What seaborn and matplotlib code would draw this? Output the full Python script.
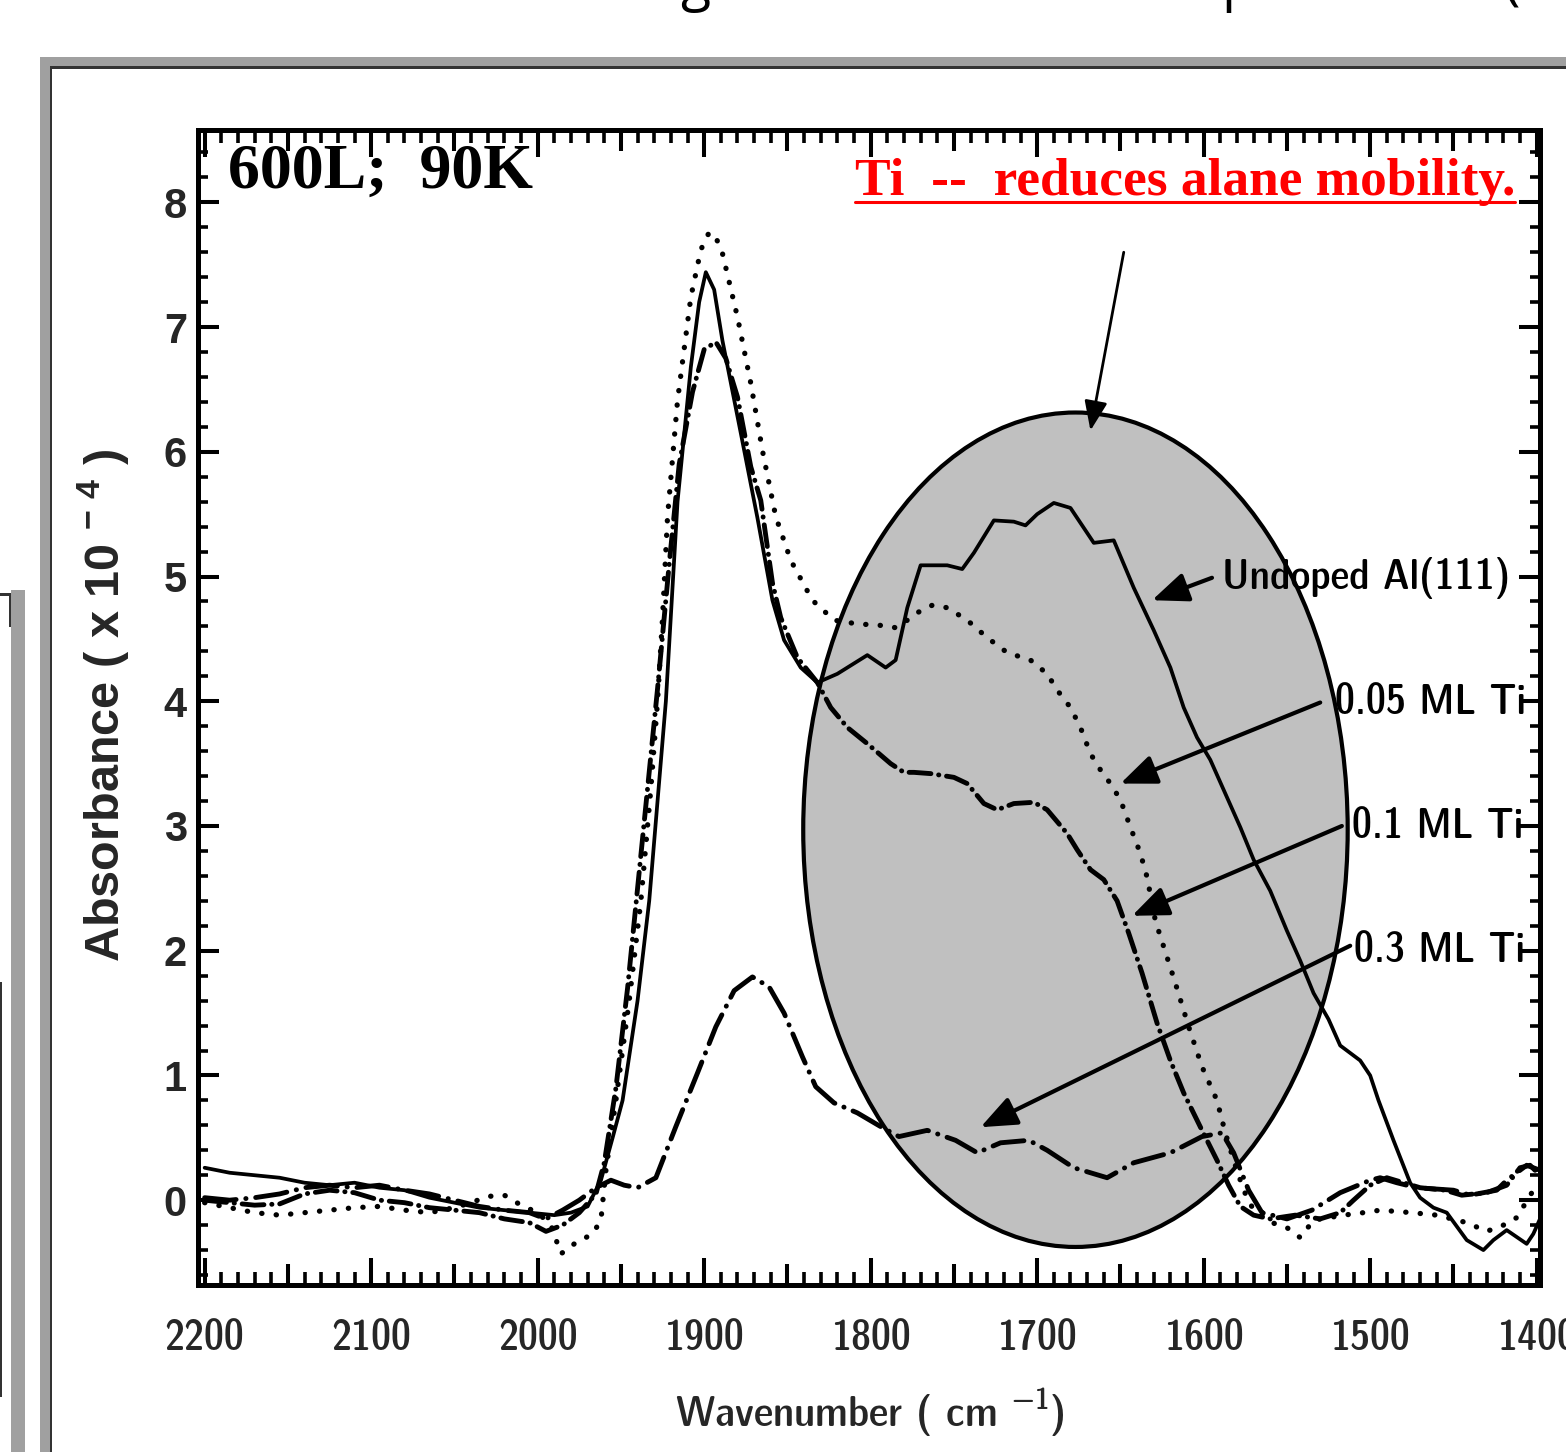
import numpy as np
import pandas as pd
import matplotlib
matplotlib.use("Agg")
import matplotlib.pyplot as plt
import seaborn as sns
from matplotlib.patches import Ellipse, Rectangle
from matplotlib.lines import Line2D
from matplotlib.ticker import MultipleLocator, FixedLocator
from matplotlib import font_manager

# ---------------- data ----------------
undoped_wn = [2200, 2185, 2170, 2155, 2140, 2125, 2110, 2095, 2080, 2065,
              2050, 2035, 2020, 2005, 1990, 1980, 1970, 1962, 1955, 1949,
              1940, 1933, 1928, 1923, 1916, 1908, 1903, 1899, 1894, 1889,
              1878, 1868, 1859, 1852, 1842, 1832, 1820, 1802, 1791, 1785,
              1778, 1770, 1754, 1745, 1738, 1726, 1714, 1707, 1700, 1690,
              1680, 1666, 1654, 1642, 1630, 1620, 1612, 1604, 1596, 1588,
              1578, 1570, 1560, 1550, 1542, 1534, 1525, 1518, 1506, 1500,
              1495, 1486, 1476, 1470, 1462, 1454, 1448, 1442, 1432, 1426,
              1418, 1406, 1402, 1398]
undoped_abs = [0.26, 0.22, 0.20, 0.18, 0.14, 0.12, 0.14, 0.10, 0.08, 0.02,
               -0.02, -0.06, -0.08, -0.10, -0.12, -0.10, -0.05, 0.16, 0.50, 0.80,
               1.60, 2.40, 3.20, 4.00, 5.60, 6.68, 7.20, 7.44, 7.30, 6.89,
               6.15, 5.47, 4.81, 4.49, 4.27, 4.15, 4.22, 4.37, 4.27, 4.33,
               4.75, 5.09, 5.09, 5.06, 5.19, 5.45, 5.44, 5.41, 5.50, 5.59,
               5.55, 5.27, 5.29, 4.91, 4.57, 4.27, 3.95, 3.71, 3.53, 3.29,
               2.99, 2.73, 2.48, 2.16, 1.92, 1.66, 1.45, 1.24, 1.12, 1.00,
               0.80, 0.48, 0.14, 0.02, -0.06, -0.10, -0.21, -0.32, -0.40, -0.32,
               -0.24, -0.35, -0.27, -0.15]

ti005_wn = [2200, 2185, 2170, 2155, 2140, 2125, 2110, 2095, 2080, 2065,
            2050, 2040, 2030, 2020, 2010, 2000, 1992, 1986, 1978, 1967,
            1962, 1959, 1953, 1945, 1938, 1932, 1928, 1925, 1922, 1916,
            1908, 1902, 1897, 1893, 1889, 1880, 1872, 1865, 1857, 1848,
            1835, 1822, 1808, 1795, 1785, 1778, 1772, 1763, 1754, 1742,
            1730, 1718, 1704, 1694, 1688, 1680, 1674, 1668, 1662, 1656,
            1650, 1644, 1638, 1634, 1629, 1617, 1609, 1601, 1592, 1587,
            1582, 1576, 1570, 1559, 1550, 1542, 1534, 1516, 1504, 1494,
            1475, 1460, 1442, 1430, 1420, 1412, 1402, 1398]
ti005_abs = [-0.02, -0.06, -0.10, -0.12, -0.10, -0.08, -0.06, -0.05, -0.08, -0.10,
             -0.06, -0.02, 0.03, 0.04, -0.04, -0.10, -0.20, -0.43, -0.35, -0.27,
             -0.16, 0.24, 0.80, 1.60, 2.40, 3.30, 4.00, 4.67, 5.48, 6.41,
             7.24, 7.62, 7.76, 7.72, 7.59, 7.08, 6.55, 6.01, 5.48, 5.13,
             4.81, 4.65, 4.62, 4.61, 4.59, 4.65, 4.71, 4.77, 4.75, 4.65,
             4.51, 4.39, 4.33, 4.22, 4.09, 3.95, 3.79, 3.58, 3.45, 3.34,
             3.21, 2.99, 2.78, 2.59, 2.24, 1.74, 1.39, 1.07, 0.80, 0.54,
             0.32, 0.08, -0.08, -0.18, -0.22, -0.30, -0.16, -0.12, -0.10, -0.08,
             -0.10, -0.12, -0.18, -0.25, -0.20, -0.14, 0.08, 0.10]

ti01_wn = [2200, 2185, 2170, 2155, 2140, 2125, 2110, 2095, 2080, 2065,
           2050, 2035, 2020, 2005, 1995, 1985, 1975, 1965, 1960, 1953,
           1946, 1940, 1934, 1928, 1921, 1915, 1907, 1900, 1893, 1887,
           1883, 1880, 1872, 1866, 1859, 1854, 1844, 1832, 1824, 1814,
           1802, 1788, 1780, 1774, 1764, 1750, 1742, 1732, 1724, 1714,
           1702, 1694, 1682, 1676, 1668, 1660, 1652, 1645, 1637, 1628,
           1620, 1612, 1601, 1592, 1585, 1578, 1570, 1560, 1545, 1530,
           1518, 1510, 1500, 1490, 1480, 1470, 1455, 1445, 1430, 1418,
           1410, 1404, 1398]
ti01_abs = [0.00, -0.02, -0.04, -0.03, 0.05, 0.08, 0.06, 0.00, -0.02, -0.06,
            -0.08, -0.10, -0.15, -0.18, -0.25, -0.20, -0.10, 0.05, 0.30, 0.90,
            1.70, 2.50, 3.30, 4.10, 5.10, 5.90, 6.48, 6.82, 6.88, 6.75,
            6.57, 6.44, 5.88, 5.61, 4.95, 4.67, 4.35, 4.15, 3.95, 3.79,
            3.66, 3.50, 3.43, 3.43, 3.42, 3.39, 3.34, 3.18, 3.13, 3.18,
            3.19, 3.13, 2.94, 2.81, 2.65, 2.57, 2.40, 2.14, 1.82, 1.42,
            1.12, 0.86, 0.56, 0.32, 0.12, -0.05, -0.12, -0.15, -0.12, -0.15,
            -0.10, 0.00, 0.12, 0.18, 0.14, 0.10, 0.08, 0.04, 0.06, 0.12,
            0.26, 0.28, 0.20]

ti03_wn = [2200, 2185, 2170, 2155, 2140, 2125, 2110, 2095, 2080, 2065,
           2050, 2035, 2020, 2005, 1995, 1985, 1975, 1965, 1956, 1948,
           1940, 1929, 1917, 1904, 1893, 1882, 1871, 1861, 1852, 1841,
           1833, 1822, 1808, 1794, 1783, 1766, 1749, 1736, 1722, 1705,
           1694, 1678, 1658, 1642, 1620, 1601, 1589, 1582, 1573, 1565,
           1550, 1535, 1518, 1500, 1494, 1484, 1472, 1450, 1440, 1424,
           1418, 1406, 1398]
ti03_abs = [0.02, 0.00, 0.02, 0.05, 0.10, 0.12, 0.10, 0.12, 0.08, 0.05,
            0.00, -0.05, -0.08, -0.10, -0.15, -0.08, 0.00, 0.10, 0.16, 0.12,
            0.10, 0.18, 0.59, 1.02, 1.39, 1.68, 1.79, 1.71, 1.50, 1.15,
            0.91, 0.78, 0.70, 0.59, 0.51, 0.56, 0.48, 0.38, 0.46, 0.48,
            0.40, 0.26, 0.18, 0.30, 0.38, 0.51, 0.54, 0.38, 0.08, -0.10,
            -0.15, -0.08, 0.06, 0.16, 0.18, 0.14, 0.10, 0.08, 0.04, 0.08,
            0.16, 0.28, 0.24]

series_labels = ["Undoped Al(111)", "0.05 ML Ti", "0.1 ML Ti", "0.3 ML Ti"]
x_ticks = [2200, 2100, 2000, 1900, 1800, 1700, 1600, 1500, 1400]
y_ticks = [0, 1, 2, 3, 4, 5, 6, 7, 8]

# ---------------- style ----------------
sns.set_theme(style="white")
plt.rcParams["font.family"] = ["Liberation Sans", "DejaVu Sans"]
plt.rcParams["axes.linewidth"] = 3.6
plt.rcParams["axes.edgecolor"] = "black"

# look for a narrow / condensed sans family (the original uses Arial Narrow)
NARROW, NARROW_STRETCH = "Liberation Sans", "normal"
for f in font_manager.fontManager.ttflist:
    st = f.stretch
    is_cond = ("Narrow" in f.name or "Condensed" in f.name or
               st in ("condensed", "semi-condensed", "extra-condensed") or
               (isinstance(st, int) and st < 500))
    if is_cond and "Mono" not in f.name and "Serif" not in f.name:
        NARROW, NARROW_STRETCH = f.name, st
        if "Liberation" in f.name or "Arimo" in f.name:
            break
NFAM = [NARROW, "Liberation Sans"]

W, H = 1566, 1452
fig = plt.figure(figsize=(W / 100, H / 100), dpi=100, facecolor="white")


def fx(px):
    return px / W


def fy(py):
    return 1 - py / H


def rect_px(x0, y0, x1, y1, color):
    fig.add_artist(Rectangle((fx(x0), fy(y1)), fx(x1) - fx(x0), fy(y0) - fy(y1),
                             transform=fig.transFigure, facecolor=color,
                             edgecolor="none", zorder=0))


# slide frame pieces
rect_px(40, 57, W, 66, "#a0a0a0")
rect_px(40, 57, 50, H, "#a0a0a0")
rect_px(50, 66, W, 69, "#333333")
rect_px(50, 66, 52, H, "#333333")
rect_px(11, 590, 25, H, "#a0a0a0")
rect_px(0, 593, 11, 596, "#333333")
rect_px(9, 593, 11, 627, "#333333")
rect_px(0, 982, 1.5, 1397, "#333333")

# partial slide title, cut off at the top edge
for ch, xc in [("g", 695), ("p", 1238), ("(", 1512)]:
    fig.text(fx(xc), 1.0008, ch, ha="center", va="baseline", fontsize=40,
             family=["Open Sans", "DejaVu Sans"], color="black")

ax = fig.add_axes([fx(198), fy(1285), fx(1540) - fx(198), fy(130) - fy(1285)])
ax.set_facecolor("white")

# gray highlight ellipse
ax.add_patch(Ellipse((1677, 2.97), 327, 6.69, facecolor="#c0c0c0",
                     edgecolor="black", linewidth=3.0, zorder=1.5))

specs = [
    (undoped_wn, undoped_abs, None, 2.7),
    (ti005_wn, ti005_abs, (0, (0.05, 2.7)), 3.8),
    (ti01_wn, ti01_abs, (0, (4.5, 1.6, 0.05, 1.6)), 3.5),
    (ti03_wn, ti03_abs, (0, (6.5, 2.0, 0.05, 2.0)), 3.5),
]
for (wn, ab, ls, lw), lab in zip(specs, series_labels):
    df = pd.DataFrame({"wavenumber": wn, "absorbance": ab})
    sns.lineplot(data=df, x="wavenumber", y="absorbance", ax=ax, color="black",
                 linewidth=lw, sort=False, estimator=None, zorder=3)
    line = ax.get_lines()[-1]
    if ls is not None:
        line.set_linestyle(ls)
        line.set_dash_capstyle("round")
    line.set_solid_capstyle("round")
    line.set_solid_joinstyle("round")

ax.set_xlim(2204, 1398)
ax.set_ylim(-0.68, 8.58)

ax.xaxis.set_major_locator(FixedLocator(x_ticks))
ax.xaxis.set_minor_locator(MultipleLocator(10))
ax.yaxis.set_major_locator(FixedLocator(y_ticks))
ax.yaxis.set_minor_locator(MultipleLocator(0.2))
ax.set_xticklabels([str(v) for v in x_ticks], family=NFAM, stretch=NARROW_STRETCH,
                   fontweight="bold", fontsize=33)
ax.set_yticklabels([str(v) for v in y_ticks], family="Liberation Sans",
                   fontweight="bold", fontsize=30)
ax.tick_params(axis="x", which="major", direction="in", length=19.5, width=2.9,
               top=True, bottom=True, pad=24, color="black")
ax.tick_params(axis="x", which="minor", direction="in", length=9.4, width=2.6,
               top=True, bottom=True, color="black")
ax.tick_params(axis="y", which="major", direction="in", length=15, width=2.9,
               left=True, right=True, pad=8, color="black")
ax.tick_params(axis="y", which="minor", direction="in", length=7.5, width=2.6,
               left=True, right=True, color="black")

# medium ticks every 50 cm-1
for loc in ("bottom", "top"):
    sec = ax.secondary_xaxis(loc)
    sec.set_xticks([v + 50 for v in x_ticks[1:]])
    sec.tick_params(direction="in", length=15, width=2.9, labelbottom=False,
                    labeltop=False, color="black")
    for s in sec.spines.values():
        s.set_visible(False)

ax.set_xlabel("Wavenumber ( cm $^{\\mathregular{-1}}$)", family=NFAM,
              stretch=NARROW_STRETCH, fontweight="bold", fontsize=33)
ax.xaxis.set_label_coords((870 - 198) / 1342, (1285 - 1413) / 1155)
ax.xaxis.label.set_va("center")
ax.set_ylabel("Absorbance ( x 10 $^{\\mathregular{-\\ 4}}$ )", family="Liberation Sans",
              fontweight="bold", fontsize=35)
ax.yaxis.set_label_coords((103 - 198) / 1342, (1285 - 705) / 1155)
ax.yaxis.label.set_va("center")

# series labels and arrows
label_pos = [(1589, 4.99), (1521, 3.99), (1511, 2.99), (1510, 2.0)]
arrow_start = [(1595, 4.99), (1530, 3.99), (1517, 3.0), (1512, 2.04)]
arrow_tip = [(1631, 4.81), (1650, 3.34), (1643, 2.28), (1734, 0.585)]
series_texts = []
for lab, (lx, ly) in zip(series_labels, label_pos):
    series_texts.append(ax.text(lx, ly, lab, ha="left", va="center", family=NFAM,
                                stretch=NARROW_STRETCH, fontweight="bold",
                                fontsize=32, color="black", zorder=5))
for (sx, sy), (tx, ty) in zip(arrow_start, arrow_tip):
    ax.annotate("", xy=(tx, ty), xytext=(sx, sy),
                arrowprops=dict(arrowstyle="-|>,head_length=1.1,head_width=0.45",
                                lw=3.0, color="black", shrinkA=0, shrinkB=0,
                                mutation_scale=20), zorder=4)
ax.annotate("", xy=(1668, 6.17), xytext=(1648, 7.60),
            arrowprops=dict(arrowstyle="-|>,head_length=0.9,head_width=0.35",
                            lw=2.0, color="black", shrinkA=0, shrinkB=0,
                            mutation_scale=20), zorder=4)

# annotations in the plot
fig.text(fx(228), fy(188), "600L;  90K", ha="left", va="baseline",
         family=["Liberation Serif", "DejaVu Serif"], fontweight="bold", fontsize=46,
         color="black")
red = fig.text(fx(1515), fy(195), "Ti  --  reduces alane mobility.", ha="right",
               va="baseline", family=["Liberation Serif", "DejaVu Serif"],
               fontweight="bold", fontsize=38.4, color="#ff0000")

# fit the narrow-font texts to the widths they have in the original
fig.canvas.draw()
r = fig.canvas.get_renderer()
w_tick = ax.get_xticklabels()[0].get_window_extent(r).width
tick_size = min(35, 33 * 80 / w_tick)
ax.tick_params(axis="x", which="major", labelsize=tick_size,
               pad=24 + (33 - tick_size) * 0.35)
w_lab = series_texts[0].get_window_extent(r).width
lab_size = min(34, 32 * 288 / w_lab)
for t in series_texts:
    t.set_fontsize(lab_size)
w_xl = ax.xaxis.label.get_window_extent(r).width
ax.xaxis.label.set_fontsize(min(35, 33 * 390 / w_xl))

fig.canvas.draw()
bb = red.get_window_extent().transformed(fig.transFigure.inverted())
fig.add_artist(Line2D([bb.x0, bb.x1], [fy(202), fy(202)], transform=fig.transFigure,
                      color="#ff0000", linewidth=2.2))

fig.savefig("out.png", dpi=100, facecolor="white")
